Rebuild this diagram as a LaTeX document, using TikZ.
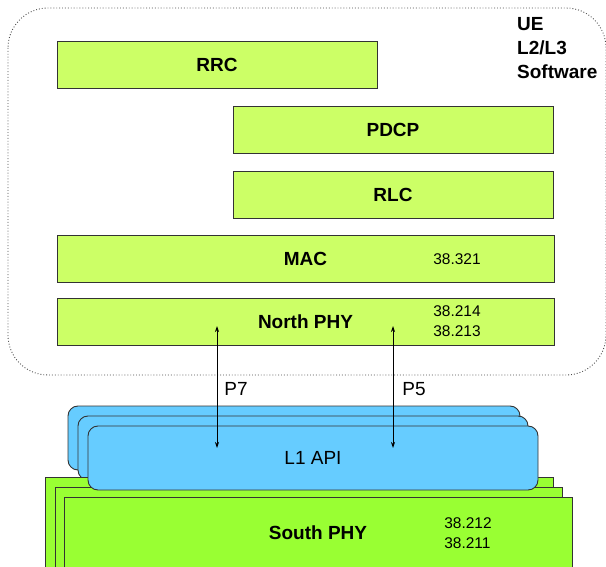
\documentclass[tikz,border=0pt]{standalone}
\usepackage{fontspec}
\setmainfont{Liberation Sans}
\usetikzlibrary{arrows.meta,positioning}

\definecolor{layergreen}{HTML}{CCFF66}
\definecolor{phygreen}{HTML}{99FF33}
\definecolor{apiblue}{HTML}{66CCFF}
\definecolor{edgegray}{HTML}{333333}

\tikzset{
  layer/.style={draw=edgegray, fill=layergreen, line width=0.9pt, minimum height=47pt,
    font=\fontsize{19}{22}\selectfont\bfseries},
  specno/.style={font=\fontsize{15.5}{20}\selectfont, align=left},
  plain/.style={font=\fontsize{19}{22}\selectfont},
  apibox/.style={draw=edgegray, fill=apiblue, line width=0.9pt, rounded corners=10pt},
  phybox/.style={draw=edgegray, fill=phygreen, line width=0.9pt},
  iface/.style={{Stealth[length=6pt,width=4pt]}-{Stealth[length=6pt,width=4pt]}, line width=0.8pt},
}

\begin{document}
\begin{tikzpicture}[x=1pt, y=-1pt]
  \useasboundingbox (0,0) rectangle (606,567);

  % software boundary
  \draw[black!70, dotted, line width=0.9pt, rounded corners=40pt] (8,8) rectangle (606,375);
  \node[anchor=north west, align=left, inner sep=0pt, font=\fontsize{19}{24}\selectfont\bfseries] (ue) at (517,17)
    {UE\\L2/L3\\Software};

  % L2/L3 layers
  \node[layer, minimum width=320pt] (rrc) at (217,64.5) {RRC};
  \node[layer, minimum width=320pt] (pdcp) at (393,130) {PDCP};
  \node[layer, minimum width=320pt] (rlc) at (393,194.5) {RLC};
  \node[layer, minimum width=497pt] (mac) at (305.5,258.5) {MAC};
  \node[specno] (macspec) at (457,259) {38.321};
  \node[layer, minimum width=497pt] (nphy) at (305.5,321.5) {North PHY};
  \node[specno] (nphyspec) at (457,321.5) {38.214\\38.213};

  % L1 API stack
  \draw[apibox] (68,406) rectangle (520,470);
  \draw[apibox] (78,416) rectangle (528,480);

  % South PHY stack
  \draw[phybox] (45,477) rectangle (553,580);
  \draw[phybox] (55,487) rectangle (562,580);
  \node[phybox, minimum width=508pt, minimum height=72pt,
    font=\fontsize{19}{22}\selectfont\bfseries] (sphy) at (318,533) {South PHY};
  \node[specno] (sphyspec) at (468,533) {38.212\\38.211};

  \node[apibox, plain, minimum width=450pt, minimum height=64pt] (api) at (313,458) {L1 API};

  % interfaces
  \coordinate (p7top) at (217,326);
  \coordinate (p7bot) at (217,448);
  \coordinate (p5top) at (393,326);
  \coordinate (p5bot) at (393,448);
  \draw[iface] (p7top) -- (p7bot);
  \draw[iface] (p5top) -- (p5bot);
  \node[plain] (p7) at (236,389) {P7};
  \node[plain] (p5) at (414,389) {P5};
\end{tikzpicture}
\end{document}
